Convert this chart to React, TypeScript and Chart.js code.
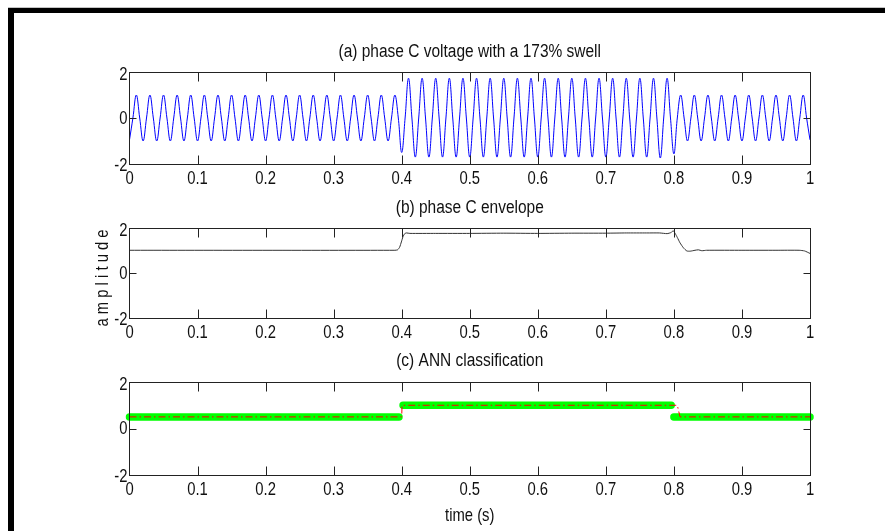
import React, { useEffect, useRef } from "react";
import { Chart, registerables } from "chart.js";

Chart.register(...registerables);

// ---------- text ----------
const panelTitles = [
  "(a) phase C voltage with a 173% swell",
  "(b) phase C envelope",
  "(c) ANN classification",
];
const xAxisLabel = "time (s)";
const yAxisLabel = "a m p l i t u d e";

// ---------- ticks ----------
const xTickValues = [0, 0.1, 0.2, 0.3, 0.4, 0.5, 0.6, 0.7, 0.8, 0.9, 1];
const xTickLabels = ["0", "0.1", "0.2", "0.3", "0.4", "0.5", "0.6", "0.7", "0.8", "0.9", "1"];
const yTickValues = [-2, 0, 2];
const yTickLabels = ["-2", "0", "2"];

// ---------- (a) phase C voltage: extremum of every half cycle (50 Hz -> one every 0.01 s),
// first one a trough at t = 0; zero crossings lie half-way between extrema.
const halfCycle = 0.01;
const voltageExtrema = [
  -0.95, 1, -1, 1, -1, 1, -1, 1, -1, 1,
  -1, 1, -1, 1, -1, 1, -1, 1, -1, 1,
  -1, 1, -1, 1, -1, 1, -1, 1, -1, 1,
  -1, 1, -1, 1, -1, 1, -1, 1, -1, 1,
  -1.5, 1.73, -1.7, 1.73, -1.7, 1.73, -1.7, 1.73, -1.7, 1.73,
  -1.7, 1.73, -1.7, 1.73, -1.7, 1.73, -1.7, 1.73, -1.7, 1.73,
  -1.7, 1.73, -1.7, 1.73, -1.7, 1.73, -1.7, 1.73, -1.7, 1.73,
  -1.7, 1.73, -1.7, 1.73, -1.7, 1.73, -1.7, 1.73, -1.74, 1.73,
  -1.56, 1, -1, 1, -1, 1, -1, 1, -1, 1,
  -1, 1, -1, 1, -1, 1, -1, 1, -1, 1,
  -0.95,
];

// ---------- (b) envelope ----------
const envelopeTime = [
  0, 0.39, 0.394, 0.397, 0.3995, 0.402, 0.4045, 0.407, 0.412, 0.45, 0.5, 0.55, 0.6, 0.65, 0.7,
  0.73, 0.76, 0.779, 0.79, 0.796, 0.799, 0.802, 0.805, 0.809, 0.814, 0.819, 0.824, 0.831,
  0.836, 0.841, 0.848, 0.9, 0.95, 0.984, 0.992, 1.0,
];
const envelopeValue = [
  1.01, 1.01, 1.03, 1.15, 1.38, 1.62, 1.75, 1.78, 1.76, 1.76, 1.76, 1.77, 1.76, 1.77, 1.77,
  1.78, 1.78, 1.78, 1.75, 1.8, 1.88, 1.75, 1.58, 1.34, 1.12, 0.98, 0.97, 1.01,
  1.03, 0.99, 1.01, 1.01, 1.01, 1.01, 0.98, 0.87,
];

// ---------- (c) ANN classification ----------
// network output (green), null = break between segments
const annTime = [0, 0.396, 0.399, 0.402, 0.796, 0.798, 0.8, 1.0];
const annClass = [0.5, 0.5, null, 1.0, 1.0, null, 0.5, 0.5];
// target class (red dash-dot)
const targetTime = [0, 0.4, 0.4005, 0.805, 0.809, 1.0];
const targetClass = [0.5, 0.5, 1.0, 1.0, 0.5, 0.5];

// ---------- layout ----------
const W = 885;
const H = 531;
const FONT = '"Liberation Sans", Arimo, Arial, sans-serif';
const TICK_SIZE = 19;
const TICK_SQUEEZE = 0.78;
const TITLE_SIZE = 18;
const TITLE_SQUEEZE = 0.86;
const AXIS_LEFT = 129.5;
const PAD_RIGHT = W - 810;
const X_AXIS_H = 30;

type PanelLayout = { top: number; bottom: number; titleY: number; xLabel?: boolean; yLabel?: boolean };
const panels: PanelLayout[] = [
  { top: 72, bottom: 164, titleY: 52 },
  { top: 228, bottom: 318, titleY: 208, yLabel: true },
  { top: 382, bottom: 475, titleY: 361, xLabel: true },
];

function squeezedText(
  ctx: CanvasRenderingContext2D,
  text: string,
  x: number,
  y: number,
  size: number,
  squeeze: number,
  align: CanvasTextAlign,
  rotate = 0
) {
  ctx.save();
  ctx.translate(x, y);
  if (rotate) ctx.rotate(rotate);
  ctx.scale(squeeze, 1);
  ctx.font = `${size}px ${FONT}`;
  ctx.textAlign = align;
  ctx.textBaseline = "middle";
  ctx.fillText(text, 0, 0);
  ctx.restore();
}

function makeDecorPlugin(idx: number) {
  const p = panels[idx];
  return {
    id: "decor" + idx,
    afterDraw(chart: any) {
      const ctx = chart.ctx as CanvasRenderingContext2D;
      const { left, right, top, bottom } = chart.chartArea;
      const xs = chart.scales.x;
      const ys = chart.scales.y;
      ctx.save();
      ctx.strokeStyle = "#222";
      ctx.lineWidth = 1;
      const L = Math.floor(left) + 0.5;
      const R = Math.floor(right) + 0.5;
      const T = Math.floor(top) + 0.5;
      const B = Math.floor(bottom) + 0.5;
      ctx.strokeRect(L, T, R - L, B - T);
      ctx.beginPath();
      xTickValues.forEach((v) => {
        if (v === 0 || v === 1) return;
        const px = Math.round(xs.getPixelForValue(v)) + 0.5;
        ctx.moveTo(px, B);
        ctx.lineTo(px, B - 9);
        ctx.moveTo(px, T);
        ctx.lineTo(px, T + 9);
      });
      yTickValues.forEach((v) => {
        if (v === -2 || v === 2) return;
        const py = Math.round(ys.getPixelForValue(v)) + 0.5;
        ctx.moveTo(L, py);
        ctx.lineTo(L + 7, py);
        ctx.moveTo(R, py);
        ctx.lineTo(R - 7, py);
      });
      ctx.stroke();

      ctx.fillStyle = "#111";
      // tick labels, placed by the chart's scales
      xTickValues.forEach((v, i) => {
        squeezedText(ctx, xTickLabels[i], xs.getPixelForValue(v), bottom + 15, TICK_SIZE, TICK_SQUEEZE, "center");
      });
      yTickValues.forEach((v, i) => {
        const shift = v === 2 ? 3 : v === -2 ? 2 : 0.5;
        squeezedText(ctx, yTickLabels[i], left - 2, ys.getPixelForValue(v) + shift, TICK_SIZE, TICK_SQUEEZE, "right");
      });

      const cx = (left + right) / 2;
      squeezedText(ctx, panelTitles[idx], cx, p.titleY, TITLE_SIZE, TITLE_SQUEEZE, "center");
      if (p.xLabel) squeezedText(ctx, xAxisLabel, cx, 516, TICK_SIZE, TICK_SQUEEZE, "center");
      if (p.yLabel)
        squeezedText(ctx, yAxisLabel, 103, (top + bottom) / 2 + 5, TICK_SIZE, TICK_SQUEEZE, "center", -Math.PI / 2);
      ctx.restore();
    },
  };
}

function baseOptions(idx: number) {
  const p = panels[idx];
  return {
    responsive: false,
    animation: false as const,
    events: [] as any[],
    layout: { padding: { top: p.top, right: PAD_RIGHT, bottom: H - p.bottom - X_AXIS_H, left: 0 } },
    plugins: { legend: { display: false }, tooltip: { enabled: false }, title: { display: false } },
    scales: {
      x: {
        type: "linear" as const,
        min: 0,
        max: 1,
        grid: { display: false, drawTicks: false },
        border: { display: false },
        afterBuildTicks: (s: any) => {
          s.ticks = xTickValues.map((v) => ({ value: v }));
        },
        afterFit: (s: any) => {
          s.height = X_AXIS_H;
        },
        ticks: { display: false },
      },
      y: {
        type: "linear" as const,
        min: -2,
        max: 2,
        grid: { display: false, drawTicks: false },
        border: { display: false },
        afterBuildTicks: (s: any) => {
          s.ticks = yTickValues.map((v) => ({ value: v }));
        },
        afterFit: (s: any) => {
          s.width = AXIS_LEFT;
        },
        ticks: { display: false },
      },
    },
  };
}

export default function App() {
  const refA = useRef<HTMLCanvasElement>(null);
  const refB = useRef<HTMLCanvasElement>(null);
  const refC = useRef<HTMLCanvasElement>(null);

  useEffect(() => {
    const voltagePoints: { x: number; y: number }[] = [];
    voltageExtrema.forEach((v, k) => {
      voltagePoints.push({ x: k * halfCycle, y: v });
      if (k < voltageExtrema.length - 1) voltagePoints.push({ x: k * halfCycle + halfCycle / 2, y: 0 });
    });

    const chartA = new Chart(refA.current!, {
      type: "line",
      data: {
        datasets: [
          {
            data: voltagePoints,
            borderColor: "#0000ff",
            borderWidth: 1,
            pointRadius: 0,
            tension: 0.4,
            fill: false,
          },
        ],
      },
      options: baseOptions(0) as any,
      plugins: [makeDecorPlugin(0)],
    });

    const chartB = new Chart(refB.current!, {
      type: "line",
      data: {
        datasets: [
          {
            data: envelopeTime.map((t, i) => ({ x: t, y: envelopeValue[i] })),
            borderColor: "#333333",
            borderWidth: 1,
            pointRadius: 0,
            tension: 0.2,
            fill: false,
          },
        ],
      },
      options: baseOptions(1) as any,
      plugins: [makeDecorPlugin(1)],
    });

    const chartC = new Chart(refC.current!, {
      type: "line",
      data: {
        datasets: [
          {
            data: targetTime.map((t, i) => ({ x: t, y: targetClass[i] })),
            borderColor: "#ff0000",
            borderWidth: 1,
            borderDash: [7, 3, 1.5, 3],
            pointRadius: 0,
            tension: 0,
            fill: false,
          },
          {
            data: annTime.map((t, i) => ({ x: t, y: annClass[i] })),
            borderColor: "#00ff00",
            borderWidth: 7.5,
            borderCapStyle: "round",
            borderJoinStyle: "round",
            pointRadius: 0,
            tension: 0,
            spanGaps: false,
            clip: false,
            fill: false,
          } as any,
        ],
      },
      options: baseOptions(2) as any,
      plugins: [makeDecorPlugin(2)],
    });

    return () => {
      chartA.destroy();
      chartB.destroy();
      chartC.destroy();
    };
  }, []);

  const canvasStyle: React.CSSProperties = { position: "absolute", left: 0, top: 0, width: W, height: H };
  return (
    <div style={{ position: "fixed", left: 0, top: 0, width: W, height: H, background: "#fff", overflow: "hidden" }}>
      <div style={{ position: "absolute", left: 8, top: 7, width: W - 8, height: 1, background: "#c4c4c4" }} />
      <div style={{ position: "absolute", left: 8, top: 8, width: W - 8, height: 5, background: "#000" }} />
      <div style={{ position: "absolute", left: 8, top: 8, width: 6, height: H - 8, background: "#000" }} />
      <canvas ref={refA} width={W} height={H} style={canvasStyle} />
      <canvas ref={refB} width={W} height={H} style={canvasStyle} />
      <canvas ref={refC} width={W} height={H} style={canvasStyle} />
    </div>
  );
}
